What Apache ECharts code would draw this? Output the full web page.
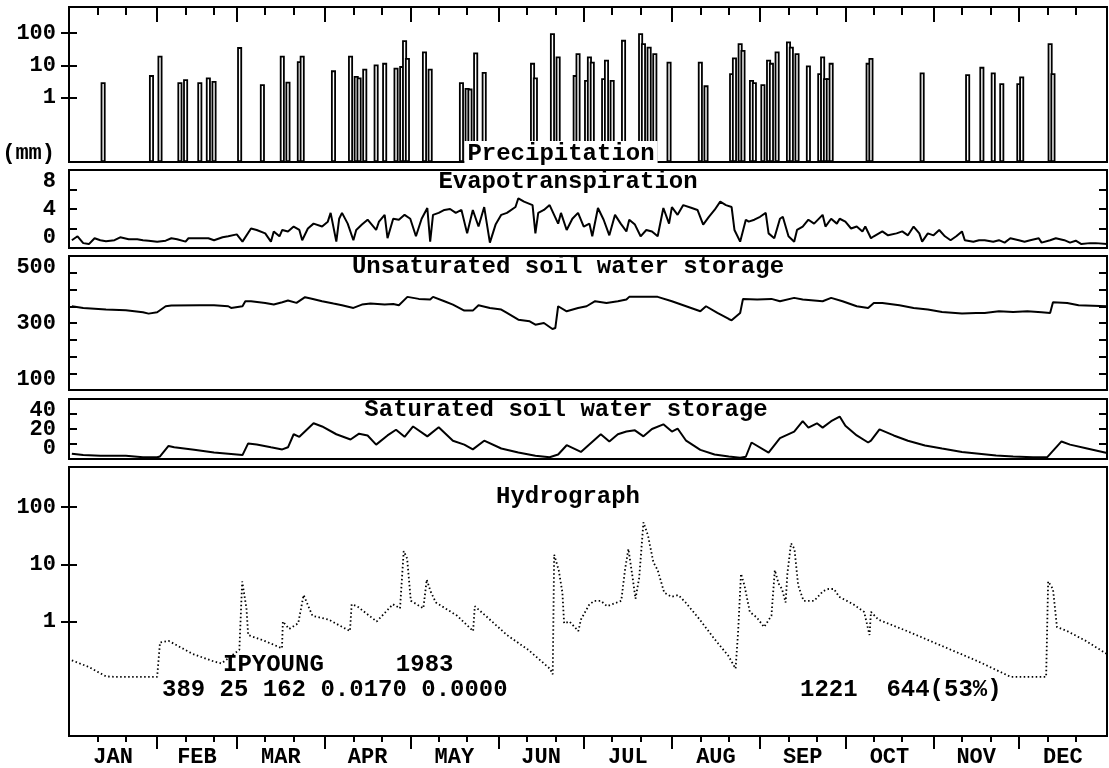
<!DOCTYPE html>
<html><head><meta charset="utf-8">
<script src="https://cdn.jsdelivr.net/npm/echarts@6/dist/echarts.min.js"></script>
<style>html,body{margin:0;padding:0;background:#fff}#c{width:1109px;height:768px}</style>
</head><body><div id="c"></div>
<script>
// ---------- data ----------
const monthNames = ['JAN','FEB','MAR','APR','MAY','JUN','JUL','AUG','SEP','OCT','NOV','DEC'];
const monthStarts = [0,31,59,90,120,151,181,212,243,273,304,334,365];
const logTickLabels = [1, 10, 100];
const etTickLabels = [0, 4, 8];
const unsatTickLabels = [100, 300, 500];
const satTickLabels = [0, 20, 40];

// precipitation [day, mm]
const precipData = [[12,3.0],[29,5],[32,20],[39,3.0],[41,3.7],[46,3.0],[49,4.2],[51,3.3],[60,37],[68,2.6],[75,20],[77,3.1],[81,13.5],[82,20],[93,7],[99,20],[101,4.7],[102,4.2],[104,7.9],[108,10.7],[111,12],[115,8.5],[117,9.5],[118,60],[119,17],[125,27],[127,7.9],[138,3.0],[140,2.0],[141,1.9],[143,25],[146,6.2],[163,12],[164,4.2],[170,100],[172,19],[178,5],[179,24],[182,3.5],[183,19],[184,13],[188,4],[189,15],[191,3.5],[195,62],[201,100],[202,49],[204,38],[206,24],[211,13],[222,13],[224,2.4],[233,5.7],[234,17.5],[236,49],[237,30],[240,3.5],[241,3],[244,2.6],[246,15],[247,12],[249,27],[253,55],[254,38],[256,24],[260,10],[264,5.7],[265,19],[266,4],[267,4],[268,12],[281,12],[282,17],[300,6],[316,5.3],[321,9],[325,6],[328,2.8],[334,2.8],[335,4.5],[345,49],[346,5.7]];

// evapotranspiration [day, mm]
const etData = [[1,0.8],[3,1.2],[5,0.5],[7,0.4],[9,1.0],[11,0.8],[13,0.7],[16,0.8],[18,1.1],[21,0.9],[24,0.9],[26,0.8],[28,0.75],[31,0.65],[34,0.75],[36,1.0],[38,0.9],[41,0.65],[42,1.0],[46,1.0],[49,1.0],[51,0.8],[54,1.1],[56,1.2],[59,1.4],[61,0.65],[64,2.0],[66,1.85],[69,1.5],[71,0.65],[72,1.7],[74,1.2],[75,1.85],[77,1.7],[79,2.2],[81,1.85],[82,0.8],[84,2.0],[86,2.5],[89,2.2],[91,2.7],[92,3.6],[94,0.65],[95,3.0],[96,3.6],[98,2.5],[100,0.8],[101,1.85],[103,2.4],[105,2.9],[108,1.85],[109,2.7],[111,3.4],[112,1.0],[114,3.0],[116,2.9],[118,3.4],[120,3.0],[122,1.2],[124,3.0],[126,4.1],[127,0.65],[128,3.4],[130,3.6],[132,3.9],[134,4.0],[136,3.6],[138,3.9],[140,1.5],[142,3.9],[144,2.2],[146,4.2],[148,0.55],[150,2.4],[152,3.4],[154,3.6],[157,4.2],[158,5.1],[160,4.75],[163,4.4],[164,1.5],[165,3.6],[167,3.9],[169,4.4],[172,2.5],[173,3.6],[175,1.85],[177,3.0],[179,3.6],[181,2.2],[183,2.5],[184,1.2],[186,4.1],[188,2.9],[190,1.3],[192,3.4],[194,2.5],[196,1.7],[197,2.9],[199,2.4],[201,1.2],[203,1.85],[205,1.7],[207,1.2],[209,4.1],[211,2.5],[212,4.2],[214,3.4],[216,4.4],[219,4.1],[221,3.9],[223,2.4],[225,3.2],[227,3.9],[229,4.75],[231,4.4],[233,4.2],[234,1.85],[236,0.65],[238,2.9],[239,2.7],[241,2.9],[243,3.2],[245,3.6],[246,1.5],[248,1.0],[250,3.0],[251,3.2],[253,1.2],[255,0.65],[256,1.85],[258,2.2],[260,2.9],[262,2.5],[265,3.4],[266,2.2],[268,3.0],[270,2.5],[271,3.0],[273,2.7],[275,2.0],[277,2.2],[279,1.7],[280,2.2],[282,1.0],[283,1.2],[286,1.7],[288,1.3],[291,1.5],[293,1.7],[295,1.3],[297,2.2],[299,1.5],[300,0.65],[302,1.5],[304,1.3],[306,1.85],[308,1.2],[310,0.8],[312,1.2],[314,1.7],[315,0.8],[318,0.65],[320,0.8],[322,0.8],[325,0.65],[327,0.8],[329,0.55],[331,1.0],[334,0.8],[336,0.65],[338,0.8],[341,1.0],[342,0.55],[345,0.8],[347,1.0],[350,0.8],[352,0.55],[354,0.75],[356,0.4],[359,0.5],[361,0.5],[365,0.4]];

// unsaturated soil water storage [day, mm]
const unsatData = [[1,350],[5,345],[13,340],[20,338],[26,332],[28,328],[31,332],[34,350],[36,352],[46,353],[51,353],[56,350],[57,345],[61,350],[62,365],[64,365],[69,360],[72,355],[75,362],[77,367],[80,360],[83,377],[85,373],[89,365],[93,358],[96,353],[100,345],[103,355],[106,358],[111,355],[114,357],[116,353],[119,378],[123,372],[127,370],[128,378],[132,365],[135,355],[139,337],[142,337],[144,353],[148,345],[152,340],[154,330],[158,310],[162,305],[164,295],[167,300],[170,282],[171,285],[172,350],[175,335],[179,345],[182,350],[185,365],[189,360],[193,365],[196,370],[197,378],[202,378],[207,378],[212,365],[217,350],[222,335],[224,350],[228,330],[232,312],[233,308],[236,330],[237,372],[242,370],[247,372],[250,365],[255,375],[258,370],[265,365],[268,375],[272,365],[277,350],[281,345],[283,360],[286,360],[292,353],[297,345],[302,340],[307,333],[314,328],[319,330],[322,330],[327,335],[332,333],[337,335],[342,332],[345,330],[346,362],[351,360],[355,353],[365,350]];

// saturated soil water storage [day, mm]
const satData = [[1,3.5],[5,2.6],[11,2.1],[20,2.1],[26,1.2],[31,1.2],[32,1.7],[35,8.7],[37,7.8],[44,6.1],[51,4.3],[56,3.5],[61,2.6],[63,10.4],[66,9.6],[71,7.8],[75,6.4],[77,7.8],[79,16.5],[81,14.8],[86,23.8],[89,21.7],[94,16.5],[99,13],[102,16.9],[105,15.7],[108,9.6],[112,15.7],[115,19.5],[118,14.8],[121,21.7],[126,15.1],[130,21.2],[135,12.2],[139,9.6],[142,6.4],[146,12.2],[152,7],[158,4.3],[164,2.1],[169,1.2],[172,3],[175,9.2],[180,4.7],[187,16.5],[190,11.7],[193,16.5],[196,18.3],[199,19.1],[202,15.1],[205,20],[209,23.1],[212,18.3],[214,20.3],[217,12.2],[222,6.1],[227,3],[232,1.7],[236,0.9],[238,1.5],[240,11],[246,4.3],[250,13.9],[255,18.3],[258,25.2],[260,20.9],[263,23.8],[265,20.9],[268,25.2],[271,28.3],[273,22.1],[277,15.7],[281,11],[282,12.2],[285,19.7],[290,15.7],[295,12.2],[301,9],[307,7],[314,4.7],[320,3.5],[326,2.3],[332,1.7],[339,1.2],[344,1.2],[349,11.7],[352,9.6],[358,7],[365,4]];

// hydrograph [day, discharge]
const hydroData = [[1,0.21],[7,0.16],[13,0.11],[16,0.108],[31,0.108],[32,0.43],[35,0.46],[38.5,0.37],[43.6,0.27],[51,0.2],[53.6,0.185],[59.9,0.32],[60.9,5.0],[62.4,1.7],[63,0.58],[68.7,0.46],[74.9,0.34],[75.2,1.0],[77.4,0.74],[80.6,0.93],[82.5,2.9],[85.6,1.26],[91.3,1.08],[98.8,0.68],[99.4,2.0],[101.3,1.85],[108.2,1.0],[113.9,2.0],[116.4,1.7],[117.7,17],[118.9,12.6],[120.2,2.3],[124.6,1.7],[125.8,5.4],[127.1,3.4],[129,2.15],[136.5,1.26],[142.1,0.68],[142.7,1.85],[146.5,1.26],[154,0.58],[161.5,0.32],[169.1,0.15],[170.1,0.12],[170.6,14.7],[172.2,7.9],[173.5,3.2],[174.1,0.93],[176,1.0],[179.1,0.68],[180,1.08],[183,2.0],[184.8,2.3],[187,2.3],[189.2,1.85],[191,2.0],[194.2,2.3],[195.5,7.9],[196.7,18.5],[198,6.8],[199.2,2.5],[200.5,5.8],[202,54],[203.6,31.6],[205.5,10.8],[207,7.9],[209.3,3.2],[211.8,2.7],[214.3,2.9],[216.8,2.15],[221.8,1.08],[226.9,0.5],[231.9,0.25],[234.4,0.15],[235.3,0.68],[236.3,6.8],[237.5,4.3],[239.4,1.47],[241.9,1.17],[244.4,0.8],[247,1.26],[248.2,7.9],[249.5,4.6],[250.7,3.7],[252,2.15],[252.6,6.8],[253.9,23.3],[255.1,18.5],[256.4,4.3],[258.3,2.3],[262,2.3],[265.2,3.4],[267,3.7],[269,3.7],[270.8,2.7],[275.8,2.0],[279.6,1.47],[281.5,0.58],[282,1.47],[284.6,1.08],[294.7,0.68],[307.2,0.37],[319.8,0.2],[331.1,0.108],[343.6,0.108],[344.3,5.0],[346,3.7],[347.4,0.8],[351,0.68],[357.5,0.46],[365,0.27]];

// annotation texts
const titles = ['Precipitation','Evapotranspiration','Unsaturated soil water storage','Saturated soil water storage','Hydrograph'];
const stationLine = 'IPYOUNG     1983';
const paramLine = '389 25 162 0.0170 0.0000';
const balanceLine = '1221  644(53%)';

// ---------- helpers ----------
const FONT = '"Liberation Mono", "DejaVu Sans Mono", monospace';
const dekadTicks = [];
for (let i = 0; i < 12; i++) { dekadTicks.push(monthStarts[i] + 10, monthStarts[i] + 20); }
const innerMonthStarts = monthStarts.slice(1, 12);
const monthMid = [];
for (let i = 0; i < 12; i++) monthMid.push((monthStarts[i] + monthStarts[i + 1]) / 2);

const labelStyle = { fontFamily: FONT, fontWeight: 'bold', fontSize: 22, color: '#000' };

function pickFormatter(list) {
  return function (v) {
    for (const t of list) if (Math.abs(t - v) < 1e-6 * Math.max(1, Math.abs(t))) return String(t);
    return '';
  };
}

const G = [
  { left: 69, right: 2, top: 7, height: 155 },
  { left: 69, right: 2, top: 170, height: 78 },
  { left: 69, right: 2, top: 256, height: 134 },
  { left: 69, right: 2, top: 399, height: 60 },
  { left: 69, right: 2, top: 467, height: 271 }
].map(g => Object.assign({ show: true, borderColor: '#000', borderWidth: 2, backgroundColor: 'transparent' }, g));

function dayAxis(gridIndex, position, tickValues, tickLen, inside, labelOpt) {
  return {
    type: 'value', gridIndex: gridIndex, position: position, min: 0, max: 365, offset: 0,
    axisLine: { show: false },
    splitLine: { show: false },
    axisTick: { show: !!tickValues, customValues: tickValues || undefined, length: tickLen || 5, inside: inside, lineStyle: { color: '#000', width: 2 } },
    axisLabel: labelOpt || { show: false }
  };
}

const xAxes = [
  dayAxis(0, 'top', dekadTicks, 8, true),
  dayAxis(0, 'top', innerMonthStarts, 15, true),
  Object.assign(dayAxis(1, 'bottom'), { show: false }),
  Object.assign(dayAxis(2, 'bottom'), { show: false }),
  Object.assign(dayAxis(3, 'bottom'), { show: false }),
  dayAxis(4, 'bottom', dekadTicks, 6, false, Object.assign({
    show: true, customValues: monthMid, margin: 10,
    formatter: function (v) { const i = monthMid.findIndex(m => Math.abs(m - v) < 1e-6); return i >= 0 ? monthNames[i] : ''; }
  }, labelStyle)),
  dayAxis(4, 'bottom', innerMonthStarts, 13, false)
];

function valAxis(gridIndex, position, opt, labels) {
  const ax = Object.assign({
    type: 'value', gridIndex: gridIndex, position: position,
    axisLine: { show: false }, splitLine: { show: false },
    axisTick: { show: true, inside: true, length: 8, lineStyle: { color: '#000', width: 2 } },
    axisLabel: { show: false }
  }, opt);
  if (labels && position === 'left') {
    ax.axisLabel = Object.assign({
      show: true, margin: 13, formatter: pickFormatter(labels),
      verticalAlignMinLabel: 'bottom', verticalAlignMaxLabel: 'top'
    }, labelStyle);
  }
  return ax;
}

function logAxis(gridIndex, position, max, withLabels) {
  const ax = valAxis(gridIndex, position, { type: 'log', logBase: 10, min: 0.01, max: max, startValue: 0.01 }, null);
  ax.axisTick.customValues = logTickLabels;
  if (withLabels) {
    ax.axisLabel = Object.assign({ show: true, margin: 13, customValues: logTickLabels, formatter: pickFormatter(logTickLabels) }, labelStyle);
  }
  return ax;
}

const yAxes = [
  logAxis(0, 'left', 650, true),
  logAxis(0, 'right', 650, false),
  valAxis(1, 'left', { min: 0, max: 8, interval: 2 }, etTickLabels),
  valAxis(1, 'right', { min: 0, max: 8, interval: 2 }),
  valAxis(2, 'left', { min: 100, max: 500, interval: 50 }, unsatTickLabels),
  valAxis(2, 'right', { min: 100, max: 500, interval: 50 }),
  valAxis(3, 'left', { min: 0, max: 40, interval: 10 }, satTickLabels),
  valAxis(3, 'right', { min: 0, max: 40, interval: 10 }),
  logAxis(4, 'left', 500, true),
  logAxis(4, 'right', 500, false)
];

const lineStyleSolid = { color: '#000', width: 2 };

const series = [
  { type: 'bar', xAxisIndex: 0, yAxisIndex: 0, data: precipData, barWidth: 5, silent: true,
    itemStyle: { color: '#fff', borderColor: '#000', borderWidth: 1.8 } },
  { type: 'line', xAxisIndex: 2, yAxisIndex: 2, data: etData, showSymbol: false, silent: true, lineStyle: lineStyleSolid },
  { type: 'line', xAxisIndex: 3, yAxisIndex: 4, data: unsatData, showSymbol: false, silent: true, lineStyle: lineStyleSolid },
  { type: 'line', xAxisIndex: 4, yAxisIndex: 6, data: satData, showSymbol: false, silent: true, lineStyle: lineStyleSolid },
  { type: 'line', xAxisIndex: 5, yAxisIndex: 8, data: hydroData, showSymbol: false, silent: true,
    lineStyle: { color: '#000', width: 1.8, type: [1.5, 2.5] } }
];

function txt(x, y, text, align, extra) {
  return { type: 'text', x: x, y: y, z: 100, silent: true,
    style: Object.assign({ text: text, fontFamily: FONT, fontWeight: 'bold', fontSize: 24, fill: '#000',
      align: align, textAlign: align, verticalAlign: 'middle', textVerticalAlign: 'middle' }, extra || {}) };
}

const graphic = [
  txt(561, 154, titles[0], 'center', { backgroundColor: '#fff', padding: [2, 3, 0, 3] }),
  txt(568, 182, titles[1], 'center'),
  txt(568, 267, titles[2], 'center'),
  txt(566, 410, titles[3], 'center'),
  txt(568, 497, titles[4], 'center'),
  txt(55, 153, '(mm)', 'right', { fontSize: 22 }),
  txt(223, 665, stationLine, 'left'),
  txt(162, 690, paramLine, 'left'),
  txt(800, 690, balanceLine, 'left')
];

const chart = echarts.init(document.getElementById('c'), null, { renderer: 'canvas' });
chart.setOption({
  backgroundColor: '#fff',
  animation: false,
  grid: G,
  xAxis: xAxes,
  yAxis: yAxes,
  series: series,
  graphic: graphic
});
</script></body></html>
